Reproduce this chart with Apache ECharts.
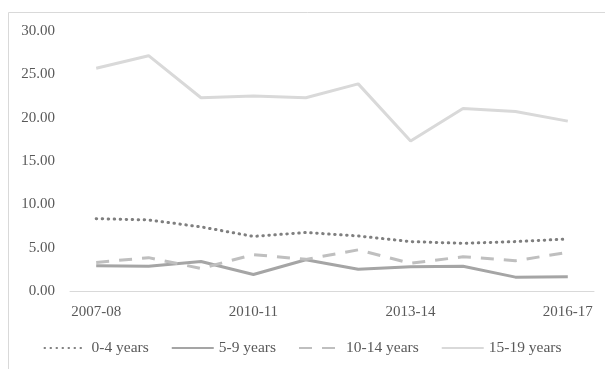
<!DOCTYPE html>
<html><head><meta charset="utf-8">
<script src="https://cdn.jsdelivr.net/npm/echarts@6/dist/echarts.min.js"></script>
<style>html,body{margin:0;padding:0;background:#fff}#c{width:605px;height:369px}</style>
</head><body><div id="c"></div>
<script>
const categories = ['2007-08','2008-09','2009-10','2010-11','2011-12','2012-13','2013-14','2014-15','2015-16','2016-17'];
const age0to4 = [8.35, 8.2, 7.4, 6.3, 6.75, 6.35, 5.7, 5.5, 5.7, 6.0];
const age5to9 = [2.9, 2.85, 3.4, 1.9, 3.6, 2.5, 2.8, 2.85, 1.6, 1.65];
const age10to14 = [3.3, 3.85, 2.6, 4.2, 3.65, 4.75, 3.2, 3.95, 3.5, 4.45];
const age15to19 = [25.7, 27.15, 22.3, 22.5, 22.3, 23.9, 17.3, 21.05, 20.7, 19.6];
const yTicks = {min: 0, max: 30, interval: 5};

const font = 'Liberation Serif';
const chart = echarts.init(document.getElementById('c'));
function mk(name, data, color, type, cap) {
  return {name, type: 'line', data, symbol: 'none', smooth: false,
    lineStyle: {color, width: 3, type, cap: cap || 'butt'}, itemStyle: {color}};
}
chart.setOption({
  animation: false,
  textStyle: {fontFamily: font},
  graphic: [{type: 'rect', shape: {x: 8.5, y: 12.5, width: 620, height: 380},
    style: {fill: 'none', stroke: '#d9d9d9', lineWidth: 1}, silent: true}],
  grid: {left: 70, right: 11, top: 31, bottom: 78},
  xAxis: {type: 'category', data: categories, boundaryGap: true,
    axisLine: {lineStyle: {color: '#d9d9d9', width: 1}}, axisTick: {show: false},
    axisLabel: {interval: 2, color: '#595959', fontSize: 15, fontFamily: font, margin: 14}},
  yAxis: {type: 'value', min: yTicks.min, max: yTicks.max, interval: yTicks.interval,
    splitLine: {show: false}, axisLine: {show: false}, axisTick: {show: false},
    axisLabel: {color: '#595959', fontSize: 15, fontFamily: font, margin: 15,
      formatter: v => v.toFixed(2)}},
  legend: {bottom: 8, left: 'center', itemWidth: 42, itemHeight: 10, itemGap: 22,
    itemStyle: {opacity: 0},
    textStyle: {color: '#595959', fontSize: 15.5, fontFamily: font},
    data: ['0-4 years', '5-9 years', '10-14 years', '15-19 years']},
  series: [
    mk('0-4 years', age0to4, '#7f7f7f', [0.5, 5.5], 'round'),
    mk('5-9 years', age5to9, '#a5a5a5', 'solid'),
    mk('10-14 years', age10to14, '#bfbfbf', [13, 10]),
    mk('15-19 years', age15to19, '#d9d9d9', 'solid')
  ]
});
</script></body></html>
